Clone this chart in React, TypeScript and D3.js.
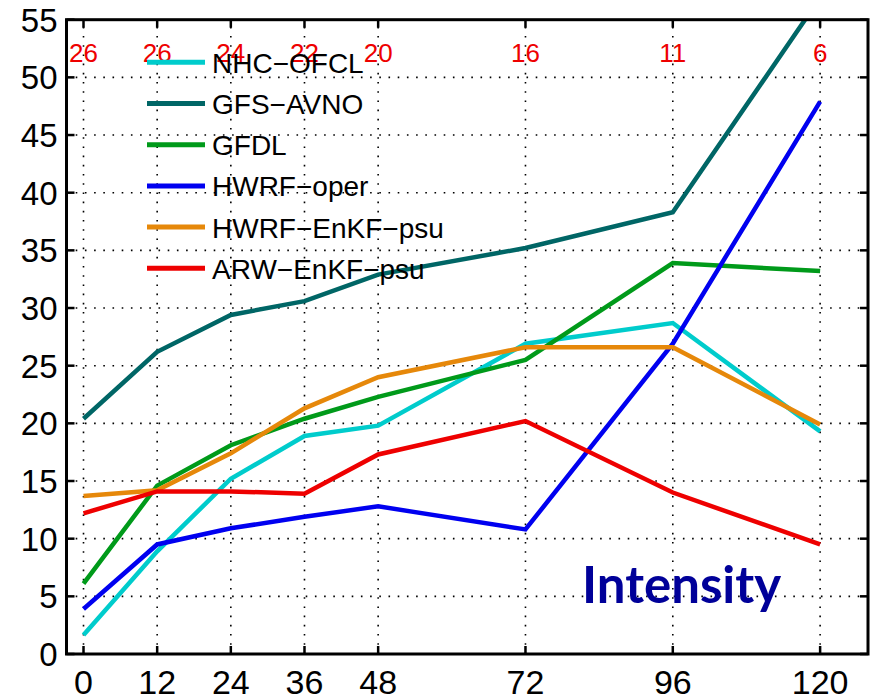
import React, { useEffect, useRef } from 'react';
import * as d3 from 'd3';

// forecast lead times (h) and sample counts shown in red on top
const leadTimes = [0, 12, 24, 36, 48, 72, 96, 120];
const sampleCounts = ['26', '26', '24', '22', '20', '16', '11', '6'];
const yTicks = [0, 5, 10, 15, 20, 25, 30, 35, 40, 45, 50, 55];

const nhcOfcl = [1.65, 8.9, 15.2, 18.9, 19.8, 26.9, 28.7, 19.3];
const gfsAvno = [20.4, 26.2, 29.4, 30.6, 32.9, 35.2, 38.3, 56.9];
const gfdl = [6.1, 14.6, 18.1, 20.4, 22.3, 25.5, 33.9, 33.2];
const hwrfOper = [3.9, 9.5, 10.9, 11.9, 12.8, 10.8, 26.9, 47.9];
const hwrfEnkf = [13.7, 14.2, 17.4, 21.3, 24.0, 26.6, 26.6, 19.9];
const arwEnkf = [12.2, 14.1, 14.1, 13.9, 17.3, 20.2, 14.0, 9.5];

const seriesNames = ['NHC\u2212OFCL', 'GFS\u2212AVNO', 'GFDL', 'HWRF\u2212oper', 'HWRF\u2212EnKF\u2212psu', 'ARW\u2212EnKF\u2212psu'];
const seriesValues = [nhcOfcl, gfsAvno, gfdl, hwrfOper, hwrfEnkf, arwEnkf];
const seriesColors = ['#00CCCC', '#006666', '#009A1A', '#0000F0', '#E6880A', '#EE0000'];

const App = () => {
  const svgRef = useRef<SVGSVGElement | null>(null);

  useEffect(() => {
    const svg = d3.select(svgRef.current);
    svg.selectAll('*').remove();

    const left = 66.5, right = 868, top = 19.7, bottom = 654;
    const font = '"Liberation Sans", Arial, Helvetica, sans-serif';

    const x = d3.scaleLinear().domain([-2.77, 127.8]).range([left, right]);
    const y = d3.scaleLinear().domain([0, 55]).range([bottom, top]);

    svg.append('defs').append('clipPath').attr('id', 'plotClip')
      .append('rect')
      .attr('x', left).attr('y', top)
      .attr('width', right - left).attr('height', bottom - top);

    // grid
    const grid = svg.append('g')
      .attr('stroke', '#000')
      .attr('stroke-width', 1.6)
      .attr('stroke-dasharray', '1.6,7.6');
    leadTimes.forEach(t => {
      grid.append('line')
        .attr('x1', x(t)).attr('x2', x(t))
        .attr('y1', bottom).attr('y2', top);
    });
    yTicks.slice(1, -1).forEach(v => {
      grid.append('line')
        .attr('x1', left).attr('x2', right)
        .attr('y1', y(v)).attr('y2', y(v));
    });

    // series lines
    const line = d3.line<number>()
      .x((_, i) => x(leadTimes[i]))
      .y(d => y(d));
    const lines = svg.append('g').attr('clip-path', 'url(#plotClip)');
    seriesValues.forEach((vals, i) => {
      lines.append('path')
        .datum(vals)
        .attr('d', line)
        .attr('fill', 'none')
        .attr('stroke', seriesColors[i])
        .attr('stroke-width', 4.5)
        .attr('stroke-linejoin', 'miter');
    });

    // frame and ticks
    svg.append('rect')
      .attr('x', left).attr('y', top)
      .attr('width', right - left).attr('height', bottom - top)
      .attr('fill', 'none')
      .attr('stroke', '#000')
      .attr('stroke-width', 3);
    const ticks = svg.append('g').attr('stroke', '#000').attr('stroke-width', 2.5);
    leadTimes.forEach(t => {
      ticks.append('line').attr('x1', x(t)).attr('x2', x(t)).attr('y1', bottom).attr('y2', bottom - 8);
      ticks.append('line').attr('x1', x(t)).attr('x2', x(t)).attr('y1', top).attr('y2', top + 8);
    });
    yTicks.forEach(v => {
      ticks.append('line').attr('x1', left).attr('x2', left + 8).attr('y1', y(v)).attr('y2', y(v));
      ticks.append('line').attr('x1', right).attr('x2', right - 8).attr('y1', y(v)).attr('y2', y(v));
    });

    // tick labels
    svg.append('g').selectAll('text')
      .data(yTicks)
      .join('text')
      .attr('x', left - 9)
      .attr('y', d => y(d) + 12)
      .attr('text-anchor', 'end')
      .style('font-family', font)
      .style('font-size', '33px')
      .attr('fill', '#000')
      .text(d => d);

    svg.append('g').selectAll('text')
      .data(leadTimes)
      .join('text')
      .attr('x', d => x(d))
      .attr('y', 694)
      .attr('text-anchor', 'middle')
      .style('font-family', font)
      .style('font-size', '34px')
      .attr('fill', '#000')
      .text(d => d);

    // sample counts
    svg.append('g').selectAll('text')
      .data(sampleCounts)
      .join('text')
      .attr('x', (_, i) => x(leadTimes[i]))
      .attr('y', 62)
      .attr('text-anchor', 'middle')
      .style('font-family', font)
      .style('font-size', '26px')
      .attr('fill', '#EE0000')
      .text(d => d);

    // legend
    const legend = svg.append('g');
    seriesNames.forEach((name, i) => {
      const cy = 62.3 + i * 41.2;
      legend.append('line')
        .attr('x1', 147).attr('x2', 205)
        .attr('y1', cy).attr('y2', cy)
        .attr('stroke', seriesColors[i])
        .attr('stroke-width', 5);
      legend.append('text')
        .attr('x', 212)
        .attr('y', cy + 10.5)
        .style('font-family', font)
        .style('font-size', '28px')
        .attr('fill', '#000')
        .text(name);
    });

    svg.append('text')
      .attr('x', 582)
      .attr('y', 603)
      .style('font-family', 'Lato, "Open Sans", sans-serif')
      .style('font-weight', 700)
      .style('font-size', '51px')
      .attr('fill', '#000099')
      .text('Intensity');
  }, []);

  return (
    <svg
      ref={svgRef}
      width={877}
      height={700}
      style={{ position: 'absolute', left: 0, top: 0, background: '#fff' }}
    />
  );
};

export default App;
